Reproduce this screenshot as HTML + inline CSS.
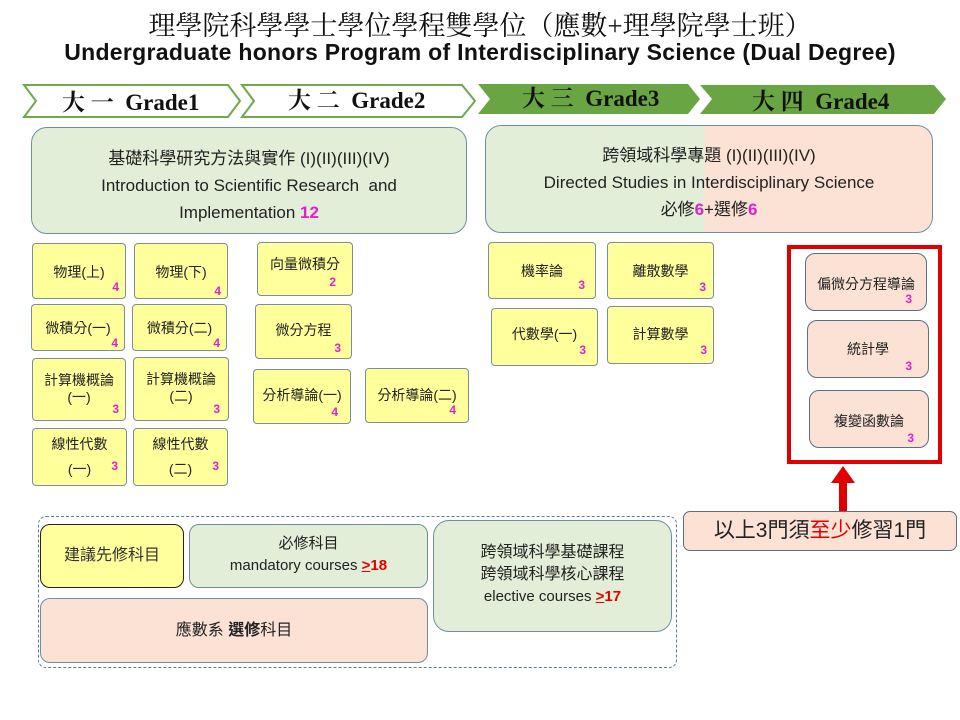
<!DOCTYPE html>
<html><head><meta charset="utf-8"><style>
body{margin:0;width:960px;height:720px;background:#fff;position:relative;overflow:hidden;font-family:"Liberation Sans","Noto Sans CJK TC",sans-serif;color:#222}
.a{position:absolute;box-sizing:border-box}
.y{background:#ffff9b;border:1px solid #7a8f9a;border-radius:4px;font-size:14px;text-align:center}
.p{background:#fbe2d5;border:1.5px solid #5a7080;border-radius:10px;font-size:14px;text-align:center}
.n{position:absolute;color:#e020d0;font-weight:bold;font-size:12px}
.t{position:absolute;left:0;right:0;text-align:center}
</style></head><body>
<div class="t" style="top:4px;font-family:'Liberation Serif','Noto Serif CJK SC',serif;font-size:27px;color:#111">理學院科學學士學位學程雙學位（應數+理學院學士班）</div>
<div class="t" style="top:39px;font-size:23px;font-weight:bold;color:#111;letter-spacing:0.3px">Undergraduate honors Program of Interdisciplinary Science (Dual Degree)</div>
<svg class="a" style="left:0;top:80px" width="960" height="42">
<polygon points="24,5 228,5 240,21 228,37 24,37 36,21" fill="#fff" stroke="#70a850" stroke-width="2"/>
<polygon points="242,5 462,5 475,21 462,37 242,37 254,21" fill="#fff" stroke="#70a850" stroke-width="2"/>
<polygon points="478,4 688,4 700,19 688,34 478,34 490,19" fill="#6aa544"/>
<polygon points="700,5 934,5 946,19 934,34 700,34 712,19" fill="#6aa544"/>
<g font-family="Liberation Serif,Noto Serif CJK SC,serif" font-weight="bold" font-size="23" fill="#111">
<text x="62" y="30">大 一&#160; Grade1</text><text x="288" y="28">大 二&#160; Grade2</text>
<text x="522" y="26">大 三&#160; Grade3</text><text x="752" y="29">大 四&#160; Grade4</text></g>
</svg>
<div class="a" style="left:31px;top:127px;width:436px;height:107px;background:#e2eed8;border:1px solid #6f8fa0;border-radius:16px;font-size:17px;text-align:center;line-height:27px;padding-top:17px">基礎科學研究方法與實作 (I)(II)(III)(IV)<br>Introduction to Scientific Research&nbsp; and<br>Implementation <b style="color:#e020d0">12</b></div>
<div class="a" style="left:485px;top:125px;width:448px;height:108px;border:1px solid #6f8fa0;border-radius:16px;overflow:hidden;background:linear-gradient(90deg,#e2eed8 0,#e2eed8 49%,#fbe2d5 49%)"></div>
<div class="a" style="left:485px;top:142px;width:448px;font-size:17px;text-align:center;line-height:27px">跨領域科學專題 (I)(II)(III)(IV)<br>Directed Studies in Interdisciplinary Science<br>必修<b style="color:#e020d0">6</b>+選修<b style="color:#e020d0">6</b></div>

<div class="a y" style="left:32px;top:243px;width:94px;height:56px;padding-top:18px">物理(上)<span class="n" style="right:6px;bottom:4px">4</span></div>
<div class="a y" style="left:134px;top:243px;width:94px;height:56px;padding-top:18px">物理(下)<span class="n" style="right:6px;bottom:0px">4</span></div>
<div class="a y" style="left:31px;top:304px;width:94px;height:47px;padding-top:13px">微積分(一)<span class="n" style="right:6px;bottom:0">4</span></div>
<div class="a y" style="left:132px;top:304px;width:95px;height:47px;padding-top:13px">微積分(二)<span class="n" style="right:6px;bottom:0">4</span></div>
<div class="a y" style="left:32px;top:358px;width:94px;height:63px;padding-top:13px;line-height:17px">計算機概論<br>(一)<span class="n" style="right:6px;bottom:2px">3</span></div>
<div class="a y" style="left:133px;top:357px;width:96px;height:64px;padding-top:13px;line-height:17px">計算機概論<br>(二)<span class="n" style="right:8px;bottom:2px">3</span></div>
<div class="a y" style="left:32px;top:428px;width:95px;height:58px;padding-top:3px;line-height:25px">線性代數<br>(一)<span class="n" style="right:8px;bottom:6px">3</span></div>
<div class="a y" style="left:133px;top:428px;width:95px;height:58px;padding-top:3px;line-height:25px">線性代數<br>(二)<span class="n" style="right:8px;bottom:6px">3</span></div>
<div class="a y" style="left:257px;top:242px;width:96px;height:54px;padding-top:11px">向量微積分<span class="n" style="right:16px;bottom:6px">2</span></div>
<div class="a y" style="left:255px;top:304px;width:97px;height:55px;padding-top:15px">微分方程<span class="n" style="right:10px;bottom:3px">3</span></div>
<div class="a y" style="left:253px;top:369px;width:98px;height:55px;padding-top:15px">分析導論(一)<span class="n" style="right:12px;bottom:4px">4</span></div>
<div class="a y" style="left:365px;top:368px;width:104px;height:55px;padding-top:16px">分析導論(二)<span class="n" style="right:12px;bottom:5px">4</span></div>

<div class="a y" style="left:488px;top:242px;width:108px;height:57px;padding-top:18px">機率論<span class="n" style="right:10px;bottom:6px">3</span></div>
<div class="a y" style="left:607px;top:242px;width:107px;height:57px;padding-top:18px">離散數學<span class="n" style="right:7px;bottom:4px">3</span></div>
<div class="a y" style="left:491px;top:308px;width:107px;height:58px;padding-top:15px">代數學(一)<span class="n" style="right:11px;bottom:8px">3</span></div>
<div class="a y" style="left:607px;top:306px;width:107px;height:58px;padding-top:17px">計算數學<span class="n" style="right:6px;bottom:6px">3</span></div>

<div class="a" style="left:787px;top:245px;width:155px;height:219px;border:4px solid #e00000"></div>
<div class="a p" style="left:805px;top:253px;width:122px;height:58px;padding-top:20px">偏微分方程導論<span class="n" style="right:14px;bottom:4px">3</span></div>
<div class="a p" style="left:807px;top:320px;width:122px;height:58px;padding-top:18px">統計學<span class="n" style="right:16px;bottom:4px">3</span></div>
<div class="a p" style="left:809px;top:390px;width:120px;height:58px;padding-top:20px">複變函數論<span class="n" style="right:14px;bottom:2px">3</span></div>
<svg class="a" style="left:828px;top:466px" width="30" height="46"><polygon points="15,0 27,17 19,17 19,45 11,45 11,17 3,17" fill="#e00000"/></svg>
<div class="a p" style="left:683px;top:511px;width:274px;height:40px;font-size:21px;line-height:38px;border-radius:7px">以上3門須<span style="color:#e00000">至少</span>修習1門</div>

<div class="a" style="left:38px;top:516px;width:639px;height:152px;border:1px dashed #5a7ca0;border-radius:8px"></div>
<div class="a" style="left:40px;top:524px;width:144px;height:64px;background:#ffff9b;border:1px solid #222;border-radius:10px;font-size:16px;text-align:center;line-height:62px;color:#333">建議先修科目</div>
<div class="a" style="left:189px;top:524px;width:239px;height:64px;background:#e2eed8;border:1px solid #6f8fa0;border-radius:10px;font-size:15px;text-align:center;line-height:22px;padding-top:8px">必修科目<br>mandatory courses <b style="color:#e00000"><u>&gt;</u>18</b></div>
<div class="a" style="left:40px;top:598px;width:388px;height:65px;background:#fbe2d5;border:1px solid #6f8fa0;border-radius:10px;font-size:16px;text-align:center;line-height:63px">應數系 <b>選修</b>科目</div>
<div class="a" style="left:433px;top:520px;width:239px;height:112px;background:#e2eed8;border:1px solid #6f8fa0;border-radius:16px;font-size:16px;text-align:center;line-height:22px;padding-top:21px">跨領域科學基礎課程<br>跨領域科學核心課程<br><span style="font-size:15px">elective courses <b style="color:#e00000"><u>&gt;</u>17</b></span></div>
</body></html>
